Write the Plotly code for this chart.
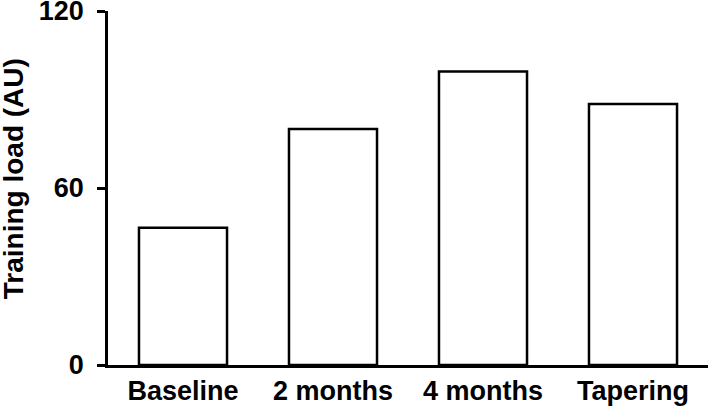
import plotly.graph_objects as go

# данные
phases = ["Baseline", "2 months", "4 months", "Tapering"]
training_load = [46.5, 80, 99.5, 88.5]
y_ticks = [0, 60, 120]

fnt = "Liberation Sans, Arial, sans-serif"

fig = go.Figure()
fig.add_trace(go.Bar(
    x=phases, y=training_load,
    width=0.587,
    marker=dict(color="white", line=dict(color="black", width=2.5)),
    showlegend=False,
))

fig.update_xaxes(
    range=[-0.5, 3.5], automargin=False,
    showline=True, linecolor="black", linewidth=2.5,
    ticks="", showgrid=False, zeroline=False,
    ticklabeloverflow="allow",
    tickfont=dict(family=fnt, size=27, color="black", weight="bold"),
)
fig.update_yaxes(
    range=[0, 120], tickvals=y_ticks, automargin=False,
    showline=True, linecolor="black", linewidth=2.5,
    ticks="outside", ticklen=8, tickwidth=2.5, tickcolor="black",
    showgrid=False, zeroline=False,
    ticklabeloverflow="allow", ticklabelstandoff=8,
    tickfont=dict(family=fnt, size=27, color="black", weight="bold"),
)

# подпись оси Y отдельной аннотацией, чтобы встала как на оригинале
fig.add_annotation(
    text="Training load (AU)", textangle=-90,
    xref="paper", yref="paper", x=-0.157, y=0.527,
    showarrow=False, xanchor="center", yanchor="middle",
    font=dict(family=fnt, size=28, color="black", weight="bold"),
)

fig.update_layout(
    width=709, height=411,
    margin=dict(l=108, r=1, t=11, b=46),
    plot_bgcolor="white", paper_bgcolor="white",
)

# убираем отступ body, иначе график съезжает на 8px и текст обрезается
fig.write_html("out.html", config={"displayModeBar": False},
               post_script="document.body.style.margin='0';")
